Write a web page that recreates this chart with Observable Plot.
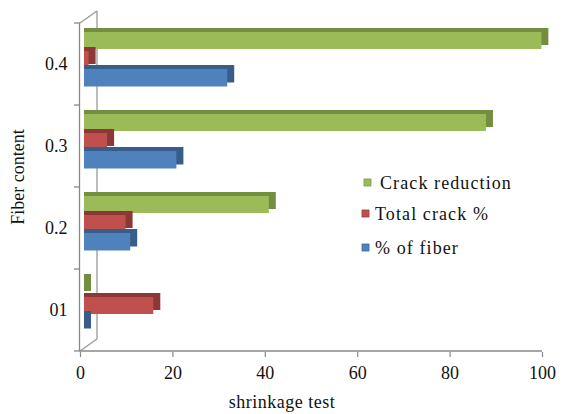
<!DOCTYPE html>
<html>
<head>
<meta charset="utf-8">
<script src="https://cdn.jsdelivr.net/npm/d3@7"></script>
<script src="https://cdn.jsdelivr.net/npm/@observablehq/plot@0.6"></script>
<style>
  html, body { margin: 0; padding: 0; background: #fff; }
  #chart { width: 565px; height: 414px; }
</style>
</head>
<body>
<div id="chart"></div>
<script>
// ---- data ----
const categories = ["0.4", "0.3", "0.2", "01"];
const seriesNames = ["Crack reduction", "Total crack %", "% of fiber"];
const crackReduction = [99, 87, 40, 0];
const totalCrack = [1, 5, 9, 15];
const percentFiber = [31, 20, 10, 0];
const xTicks = [0, 20, 40, 60, 80, 100];

const seriesValues = [crackReduction, totalCrack, percentFiber];
const frontColors = ["#9BBB59", "#C0504D", "#4F81BD"];
const sideColors = ["#748E40", "#8C3836", "#385D8A"];
const outlineColors = ["#7A9A3E", "#9E3B38", "#3D6699"];
// vertical placement inside each category band (px from band top / bottom)
const insetTops = [9, 28, 46];
const insetBottoms = [56, 37, 18.5];

const font = "'Liberation Serif', 'DejaVu Serif', serif";
const fs = 18;

const marks = [];
seriesNames.forEach((name, k) => {
  const data = categories.map((c, i) => ({cat: c, v: seriesValues[k][i], series: name}));
  // depth (top + side faces)
  marks.push(Plot.barX(data, {
    x: "v", y: "cat", fill: sideColors[k], dx: 4, dy: -4,
    insetTop: insetTops[k], insetBottom: insetBottoms[k], insetRight: -7
  }));
  // front face
  marks.push(Plot.barX(data, {
    x: "v", y: "cat", fill: frontColors[k], dx: 4,
    insetTop: insetTops[k], insetBottom: insetBottoms[k]
  }));
});

marks.push(Plot.axisX({
  ticks: xTicks, tickSize: 5, tickPadding: 9, stroke: "#888", strokeWidth: 1.2,
  fill: "#111", fontSize: fs, label: null, tickFormat: d => String(d)
}));
marks.push(Plot.axisY({
  tickSize: 0, tickPadding: 13, fill: "#111", fontSize: fs, label: null
}));

const plot = Plot.plot({
  width: 565,
  height: 414,
  marginLeft: 80,
  marginRight: 23,
  marginTop: 22,
  marginBottom: 62,
  x: {domain: [0, 100]},
  y: {domain: categories, padding: 0},
  style: {fontFamily: font, fontSize: fs + "px", background: "#fff", color: "#111"},
  marks
});

document.getElementById("chart").appendChild(plot);

// ---- decorations (walls, axis lines, titles, legend) ----
const svg = d3.select(plot);
const xs = plot.scale("x");
const ys = plot.scale("y");
const x0 = xs.apply(0);
const yTop = ys.apply(categories[0]);
const yBot = ys.apply(categories[categories.length - 1]) + ys.bandwidth;
const depthX = 17, depthY = 12;

const back = svg.insert("g", ":first-child").attr("fill", "none").attr("stroke", "#999").attr("stroke-width", 1.3);
back.append("line").attr("x1", x0 + depthX).attr("x2", x0 + depthX).attr("y1", yTop - depthY).attr("y2", yBot - depthY);
back.append("line").attr("x1", x0).attr("x2", x0 + depthX).attr("y1", yTop).attr("y2", yTop - depthY);
back.append("line").attr("x1", x0).attr("x2", x0 + depthX).attr("y1", yBot).attr("y2", yBot - depthY);

const ax = svg.append("g").attr("stroke", "#888").attr("stroke-width", 1.3);
ax.append("line").attr("x1", x0 - 0.5).attr("x2", x0 - 0.5).attr("y1", yTop).attr("y2", yBot);
ax.append("line").attr("x1", x0 - 0.5).attr("x2", xs.apply(100)).attr("y1", yBot).attr("y2", yBot);
const bounds = categories.map(c => ys.apply(c)).concat([yBot]);
bounds.forEach(b => {
  ax.append("line").attr("x1", x0 - 6).attr("x2", x0).attr("y1", b).attr("y2", b);
});

svg.append("text")
  .attr("transform", `translate(24,${(yTop + yBot) / 2 - 10}) rotate(-90)`)
  .attr("text-anchor", "middle").attr("fill", "#111")
  .attr("font-size", fs).attr("font-family", font)
  .text("Fiber content");

svg.append("text")
  .attr("x", 282).attr("y", 408)
  .attr("text-anchor", "middle").attr("fill", "#111")
  .attr("font-size", fs).attr("font-family", font)
  .attr("letter-spacing", 0.5)
  .text("shrinkage test");

const legendY = [183, 214, 248];
const legendSqX = [364, 362, 362];
const legendTxtX = [380, 375, 375];
const lg = svg.append("g");
seriesNames.forEach((name, k) => {
  lg.append("rect").attr("x", legendSqX[k]).attr("y", legendY[k] - 4).attr("width", 7).attr("height", 7)
    .attr("fill", frontColors[k]).attr("stroke", outlineColors[k]).attr("stroke-width", 0.8);
  lg.append("text").attr("x", legendTxtX[k]).attr("y", legendY[k] + 6)
    .attr("text-anchor", "start")
    .attr("fill", "#111").attr("font-size", fs).attr("font-family", font)
    .attr("letter-spacing", 1.1)
    .text(name);
});
</script>
</body>
</html>
